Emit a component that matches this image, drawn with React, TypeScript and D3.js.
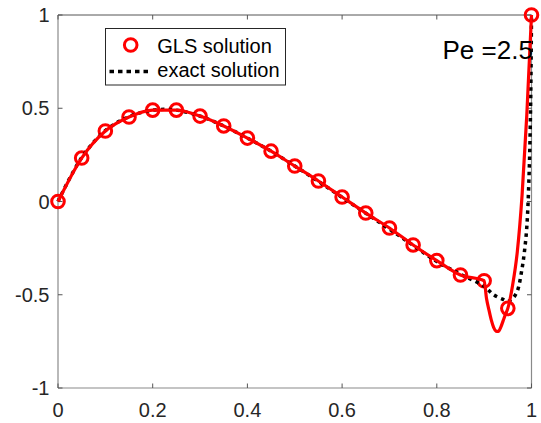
import React from "react";
import * as d3 from "d3";

// GLS nodal solution (markers)
const nodeX = [0, 0.05, 0.1, 0.15, 0.2, 0.25, 0.3, 0.35, 0.4, 0.45, 0.5, 0.55, 0.6, 0.65, 0.7, 0.75, 0.8, 0.85, 0.9, 0.95, 1];
const nodeU = [0, 0.233, 0.378, 0.453, 0.49, 0.49, 0.458, 0.405, 0.34, 0.27, 0.19, 0.11, 0.024, -0.062, -0.142, -0.233, -0.317, -0.394, -0.425, -0.573, 1];

// GLS interior detail in the last elements
const fineX = [0.905, 0.91, 0.915, 0.92, 0.925, 0.93, 0.935, 0.94, 0.945, 0.95, 0.955, 0.96, 0.97, 0.98, 0.99, 1];
const fineU = [-0.52, -0.58, -0.635, -0.675, -0.695, -0.697, -0.675, -0.64, -0.605, -0.573, -0.52, -0.45, -0.27, 0.03, 0.46, 1];

// exact solution
const exactX = [0, 0.05, 0.1, 0.15, 0.2, 0.25, 0.3, 0.35, 0.4, 0.45, 0.5, 0.55, 0.6, 0.65, 0.7, 0.75, 0.8, 0.85, 0.9, 0.92, 0.94, 0.95, 0.96, 0.97, 0.98, 0.985, 0.99, 0.995, 0.998, 1];
const exactU = [0, 0.235, 0.38, 0.455, 0.49, 0.49, 0.458, 0.405, 0.34, 0.27, 0.19, 0.108, 0.022, -0.063, -0.148, -0.235, -0.322, -0.39, -0.455, -0.5, -0.525, -0.535, -0.52, -0.48, -0.36, -0.27, -0.14, 0.15, 0.5, 1];

const xTicks = [0, 0.2, 0.4, 0.6, 0.8, 1];
const yTicks = [-1, -0.5, 0, 0.5, 1];
const legendLabels = ["GLS solution", "exact solution"];
const annotation = "Pe =2.5";

const W = 541, H = 423;
const L = 58, R = 531.5, T = 15, B = 388;
const FONT = "'Liberation Sans', Arial, Helvetica, sans-serif";
const TXT = "#262626";

export default function App() {
  const x = d3.scaleLinear().domain([0, 1]).range([L, R]);
  const y = d3.scaleLinear().domain([-1, 1]).range([B, T]);

  const glsPts: [number, number][] = [];
  nodeX.forEach((v, i) => { if (v <= 0.9) glsPts.push([v, nodeU[i]]); });
  fineX.forEach((v, i) => glsPts.push([v, fineU[i]]));
  const exactPts: [number, number][] = exactX.map((v, i) => [v, exactU[i]]);

  const line = d3.line<[number, number]>().x(d => x(d[0])).y(d => y(d[1])).curve(d3.curveMonotoneX);
  const lineCR = d3.line<[number, number]>().x(d => x(d[0])).y(d => y(d[1])).curve(d3.curveCatmullRom.alpha(0.5));

  const fmt = (v: number) => String(v);

  return (
    <svg width={W} height={H} style={{ position: "absolute", left: 0, top: 0, background: "#fff" }} fontFamily={FONT}>
      <rect x={0} y={0} width={W} height={H} fill="#fff" />
      {/* axes box */}
      <line x1={L} y1={T} x2={R} y2={T} stroke="#555" strokeWidth={1} />
      <line x1={R} y1={T} x2={R} y2={B} stroke="#8a8a8a" strokeWidth={1.2} />
      <line x1={L} y1={T} x2={L} y2={B} stroke="#8a8a8a" strokeWidth={1.2} />
      <line x1={L} y1={B} x2={R} y2={B} stroke="#8a8a8a" strokeWidth={1.2} />
      {xTicks.map(t => (
        <g key={"xt" + t}>
          <line x1={x(t)} x2={x(t)} y1={B} y2={B - 4.5} stroke="#555" strokeWidth={1} />
          <line x1={x(t)} x2={x(t)} y1={T} y2={T + 4.5} stroke="#555" strokeWidth={1} />
          <text x={x(t)} y={417} textAnchor="middle" fontSize={20} fill={TXT}>{fmt(t)}</text>
        </g>
      ))}
      {yTicks.map(t => (
        <g key={"yt" + t}>
          <line x1={L} x2={L + 4.5} y1={y(t)} y2={y(t)} stroke="#555" strokeWidth={1} />
          <line x1={R} x2={R - 4.5} y1={y(t)} y2={y(t)} stroke="#555" strokeWidth={1} />
          <text x={49.5} y={y(t)} dy="0.36em" textAnchor="end" fontSize={20} fill={TXT}>{fmt(t)}</text>
        </g>
      ))}

      {/* GLS markers */}
      {nodeX.map((v, i) => (
        <circle key={"m" + i} cx={x(v)} cy={y(nodeU[i])} r={6.3} fill="none" stroke="#ff0000" strokeWidth={3} />
      ))}
      {/* exact solution */}
      <path d={lineCR(exactPts) || ""} fill="none" stroke="#000" strokeWidth={3.5} strokeDasharray="3.5 4.2" />
      {/* GLS line */}
      <path d={line(glsPts) || ""} fill="none" stroke="#ff0000" strokeWidth={3.2} strokeLinejoin="round" />

      {/* annotation */}
      <text x={442.5} y={59} fontSize={26} fill="#000">{annotation}</text>

      {/* legend */}
      <rect x={105.5} y={28.5} width={180} height={56.5} fill="#fff" stroke="#262626" strokeWidth={1} />
      <circle cx={130.7} cy={45} r={6.3} fill="none" stroke="#ff0000" strokeWidth={3} />
      <line x1={109.5} x2={151} y1={71.5} y2={71.5} stroke="#000" strokeWidth={3.5} strokeDasharray="4.5 4" />
      <text x={157.3} y={52.5} fontSize={20} fill="#000">{legendLabels[0]}</text>
      <text x={157.3} y={76.5} fontSize={20} fill="#000">{legendLabels[1]}</text>
    </svg>
  );
}
